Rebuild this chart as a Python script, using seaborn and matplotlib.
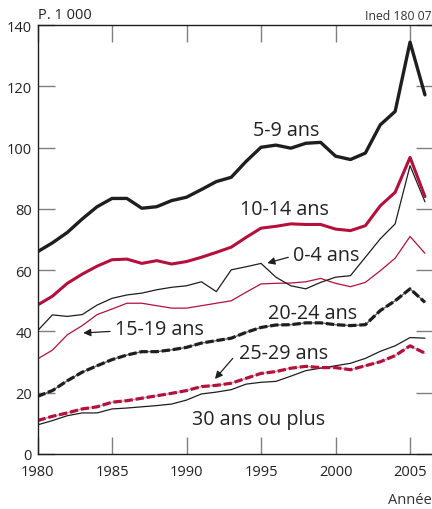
import numpy as np
import pandas as pd
import matplotlib
matplotlib.use("Agg")
import matplotlib.pyplot as plt
import seaborn as sns

years = list(range(1980, 2007))
age_0_4 = [40.2, 45.4, 44.9, 45.5, 48.6, 50.8, 51.9, 52.5, 53.6, 54.4, 54.9, 56.2, 53.0,
           60.1, 61.1, 62.2, 57.7, 54.9, 53.9, 56.0, 57.7, 58.2, 64.2, 70.2, 75.1, 94.1, 82.3]
age_5_9 = [66.0, 68.9, 72.3, 76.7, 80.7, 83.4, 83.4, 80.2, 80.7, 82.7, 83.8, 86.3, 88.9,
           90.3, 95.5, 100.1, 100.8, 99.8, 101.4, 101.7, 97.2, 96.1, 98.2, 107.4, 111.8, 134.4, 117.2]
age_10_14 = [48.6, 51.5, 55.7, 58.7, 61.3, 63.4, 63.6, 62.2, 63.1, 62.0, 62.8, 64.2, 65.8,
             67.5, 70.7, 73.7, 74.3, 75.1, 74.9, 74.9, 73.4, 72.9, 74.5, 81.0, 85.4, 96.8, 84.0]
age_15_19 = [31.0, 33.9, 38.9, 41.9, 45.5, 47.3, 49.2, 49.2, 48.4, 47.6, 47.6, 48.4, 49.2,
             50.0, 52.8, 55.5, 55.7, 55.8, 56.2, 57.3, 55.7, 54.6, 56.0, 59.8, 63.9, 71.0, 65.5]
age_20_24 = [18.8, 20.7, 23.9, 26.7, 28.8, 30.8, 32.3, 33.4, 33.4, 34.0, 34.8, 36.2, 37.0,
             37.8, 39.7, 41.3, 42.1, 42.2, 42.8, 42.8, 42.2, 41.9, 42.2, 46.8, 50.0, 53.9, 49.5]
age_25_29 = [10.9, 12.3, 13.4, 14.7, 15.4, 16.9, 17.4, 18.2, 19.0, 19.8, 20.7, 22.0, 22.4,
             23.1, 24.7, 26.3, 26.9, 28.0, 28.6, 28.2, 28.2, 27.5, 28.8, 30.1, 32.1, 35.3, 32.9]
age_30_plus = [9.5, 10.9, 12.5, 13.4, 13.4, 14.7, 15.0, 15.4, 15.8, 16.3, 17.6, 19.6, 20.2,
               21.0, 22.8, 23.4, 23.7, 25.4, 27.2, 28.0, 28.8, 29.6, 31.2, 33.5, 35.3, 38.0, 37.8]

x_ticks = [1980, 1985, 1990, 1995, 2000, 2005]
y_ticks = [0, 20, 40, 60, 80, 100, 120, 140]

df = pd.DataFrame({
    "year": years,
    "0-4 ans": age_0_4,
    "5-9 ans": age_5_9,
    "10-14 ans": age_10_14,
    "15-19 ans": age_15_19,
    "20-24 ans": age_20_24,
    "25-29 ans": age_25_29,
    "30 ans ou plus": age_30_plus,
})

sns.set_style("ticks")
plt.rcParams["font.family"] = ["Open Sans", "DejaVu Sans"]

BLACK = "#1e1e1e"
RED = "#b5103c"

fig = plt.figure(figsize=(4.32, 5.10), dpi=100)
ax = fig.add_axes([37.5 / 432, 55 / 510, (433 - 37.5) / 432, 429 / 510])

# underlying thin lines for dashed series
sns.lineplot(data=df, x="year", y="20-24 ans", ax=ax, color="#666666", lw=1.0)
sns.lineplot(data=df, x="year", y="25-29 ans", ax=ax, color="#c9a0ab", lw=1.0)

sns.lineplot(data=df, x="year", y="30 ans ou plus", ax=ax, color=BLACK, lw=0.9)
sns.lineplot(data=df, x="year", y="15-19 ans", ax=ax, color=RED, lw=0.9)
sns.lineplot(data=df, x="year", y="0-4 ans", ax=ax, color=BLACK, lw=0.9)
sns.lineplot(data=df, x="year", y="10-14 ans", ax=ax, color=RED, lw=2.2)
sns.lineplot(data=df, x="year", y="5-9 ans", ax=ax, color=BLACK, lw=2.4)
sns.lineplot(data=df, x="year", y="20-24 ans", ax=ax, color=BLACK, lw=2.3,
             linestyle=(0, (2.6, 0.9)))
sns.lineplot(data=df, x="year", y="25-29 ans", ax=ax, color=RED, lw=2.3,
             linestyle=(0, (2.6, 0.9)))

ax.set_xlim(1980, 2006.54)
ax.set_ylim(0, 140)
ax.set_xticks(x_ticks)
ax.set_yticks(y_ticks)
ax.set_xlabel("")
ax.set_ylabel("")
for s in ["left", "top", "bottom", "right"]:
    ax.spines[s].set_visible(True)
    ax.spines[s].set_color(BLACK)
    ax.spines[s].set_linewidth(1.0)
ax.tick_params(axis="both", direction="in", length=12, width=1.0, color="#808080",
               top=True, right=True, labeltop=False, labelright=False,
               labelsize=10.5, labelcolor="#222222")
ax.tick_params(axis="x", pad=7)
ax.tick_params(axis="y", pad=4)

lab_fs = 14.2
labels = [
    ("5-9 ans", 1994.44, 104.1),
    ("10-14 ans", 1993.59, 78.3),
    ("0-4 ans", 1997.13, 63.4),
    ("15-19 ans", 1985.2, 39.2),
    ("20-24 ans", 1995.49, 44.3),
    ("25-29 ans", 1993.54, 31.2),
    ("30 ans ou plus", 1990.35, 9.7),
]
for txt, xx, yy in labels:
    ax.text(xx, yy, txt, fontsize=lab_fs, color="#222222", ha="left", va="baseline")

arrows = [
    ((1996.83, 64.2), (1995.42, 62.3)),
    ((1984.87, 40.0), (1983.07, 39.5)),
    ((1993.10, 31.2), (1991.91, 24.5)),
]
for (x0, y0), (x1, y1) in arrows:
    ax.annotate("", xy=(x1, y1), xytext=(x0, y0),
                arrowprops=dict(arrowstyle="-|>", color=BLACK, lw=0.9,
                                mutation_scale=11, shrinkA=0, shrinkB=0))

fig.text(37.7 / 432, 1 - 19.3 / 510, "P. 1 000", fontsize=10.5, color="#222222",
         ha="left", va="baseline")
fig.text(432 / 432, 1 - 20 / 510, "Ined 180 07", fontsize=8.8, color="#333333",
         ha="right", va="baseline")
fig.text(388 / 432, 1 - 504 / 510, "Année", fontsize=10.5, color="#333333",
         ha="left", va="baseline")

fig.savefig("out.png", dpi=100)
